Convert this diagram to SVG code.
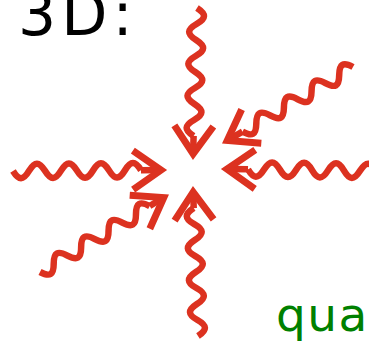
<svg xmlns="http://www.w3.org/2000/svg" xmlns:xlink="http://www.w3.org/1999/xlink" width="369" height="341" viewBox="0 0 369 341">
<style>
.w{fill:none;stroke:#dc3220;stroke-width:6.5;stroke-linecap:butt;stroke-linejoin:round}
.h{fill:none;stroke:#dc3220;stroke-width:7;stroke-linecap:butt;stroke-linejoin:miter;stroke-miterlimit:10}
.t{font-family:"DejaVu Sans","Liberation Sans",sans-serif}
</style>
<defs>
<path id="wp" class="w" d="M0,0 c5.83,9.6 10.17,9.6 16,0 c5.83,-9.6 10.17,-9.6 16,0 c5.83,9.6 10.17,9.6 16,0 c5.83,-9.6 10.17,-9.6 16,0 c5.83,9.6 10.17,9.6 16,0 c5.83,-9.6 10.17,-9.6 16,0 c5.83,9.6 10.17,9.6 16,0 c5.83,-9.6 10.17,-9.6 16,0"/>
<path id="wn" class="w" d="M0,0 c5.83,-9.6 10.17,-9.6 16,0 c5.83,9.6 10.17,9.6 16,0 c5.83,-9.6 10.17,-9.6 16,0 c5.83,9.6 10.17,9.6 16,0 c5.83,-9.6 10.17,-9.6 16,0 c5.83,9.6 10.17,9.6 16,0 c5.83,-9.6 10.17,-9.6 16,0 c5.83,9.6 10.17,9.6 16,0"/>
</defs>
<text class="t" x="18" y="35" font-size="60" letter-spacing="5" fill="#000">3D:</text>
<text class="t" x="276" y="331" font-size="47" letter-spacing="1.5" fill="#008000">qua</text>
<g id="connectors">
<g id="arrow-top" transform="translate(197,8) rotate(91.52)">
<use xlink:href="#wn"/>
<path class="w" d="M128,0 L146,0"/>
<path class="h" d="M118,-19.5 L146,0 L118,19.5"/>
</g>
<g id="arrow-bottom" transform="translate(198,336) rotate(-91.92)">
<use xlink:href="#wp"/>
<path class="w" d="M128,0 L144,0"/>
<path class="h" d="M116,-19.5 L144,0 L116,19.5"/>
</g>
<g id="arrow-left" transform="translate(13,171) rotate(-0.37)">
<use xlink:href="#wp"/>
<path class="w" d="M128,0 L148,0"/>
<path class="h" d="M120,-19.5 L148,0 L120,19.5"/>
</g>
<g id="arrow-right" transform="translate(376,171) rotate(-179.26)">
<use xlink:href="#wp"/>
<path class="w" d="M128,0 L149,0"/>
<path class="h" d="M121,-19.5 L149,0 L121,19.5"/>
</g>
<g id="arrow-upper-right" transform="translate(353,67) rotate(149.7)">
<use xlink:href="#wp"/>
<path class="w" d="M128,0 L145.6,0"/>
<path class="h" d="M117.6,-19.5 L145.6,0 L117.6,19.5"/>
</g>
<g id="arrow-lower-left" transform="translate(40,272) rotate(-31.03)">
<use xlink:href="#wp"/>
<path class="w" d="M128,0 L144.4,0"/>
<path class="h" d="M116.4,-19.5 L144.4,0 L116.4,19.5"/>
</g>
</g>
</svg>
